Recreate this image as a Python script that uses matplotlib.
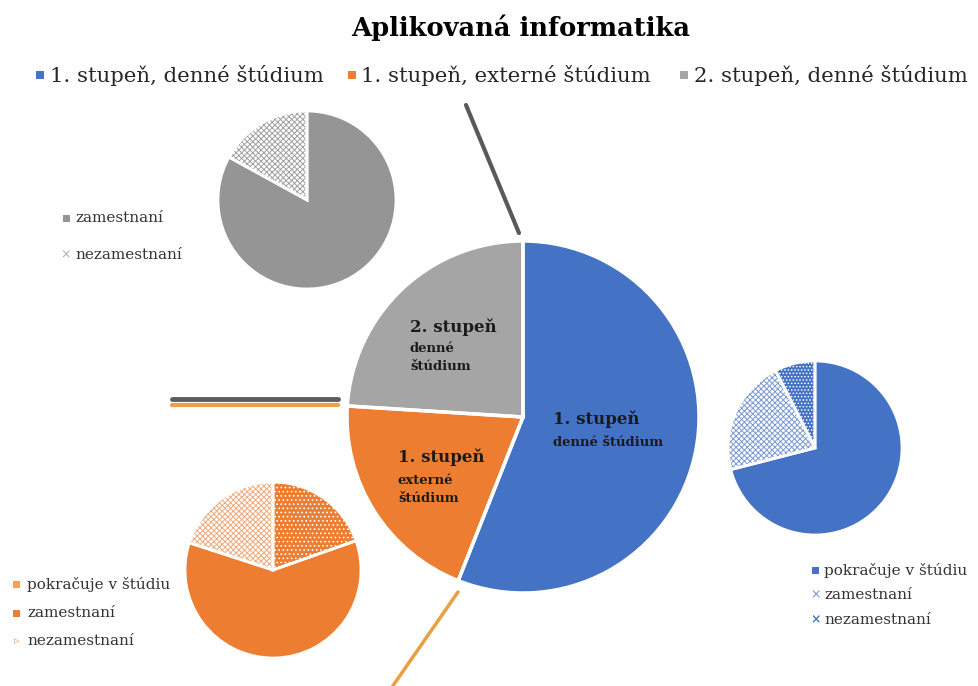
import matplotlib
matplotlib.use('Agg')
import matplotlib.pyplot as plt
from matplotlib.patches import Rectangle

plt.rcParams['font.family'] = ['DejaVu Serif']
plt.rcParams['hatch.linewidth'] = 0.7

title = "Aplikovaná informatika"
main_labels = ["1. stupeň, denné štúdium", "1. stupeň, externé štúdium", "2. stupeň, denné štúdium"]
main_values = [56, 20, 24]
main_colors = ["#4472C4", "#ED7D31", "#A5A5A5"]
main_inner = [["1. stupeň", "denné štúdium"], ["1. stupeň", "externé", "štúdium"], ["2. stupeň", "denné", "štúdium"]]

gray_labels = ["zamestnaní", "nezamestnaní"]
gray_values = [83, 17]
blue_labels = ["pokračuje v štúdiu", "zamestnaní", "nezamestnaní"]
blue_values = [71, 21.5, 7.5]
orange_labels = ["pokračuje v štúdiu", "zamestnaní", "nezamestnaní"]
orange_values = [19.6, 60.4, 20]

W, H = 979, 686
fig = plt.figure(figsize=(9.79, 6.86), dpi=100)
ax = fig.add_axes([0, 0, 1, 1])


def Y(y):
    return H - y


def draw_pie(values, center, radius, faces, hatches, hatchcols, lw=2):
    wedges, _ = ax.pie(values, center=center, radius=radius, startangle=90,
                       counterclock=False, frame=True, wedgeprops=dict(linewidth=0))
    for w, fc, h, hc in zip(wedges, faces, hatches, hatchcols):
        w.set_facecolor(fc)
        w.set_hatch(h)
        w.set_edgecolor(hc)
    ax.pie(values, center=center, radius=radius, startangle=90, counterclock=False,
           frame=True, wedgeprops=dict(fill=False, edgecolor='white', linewidth=lw))


# main pie
draw_pie(main_values, (523, Y(417)), 176, main_colors, [None] * 3, main_colors, lw=2.5)

BLUE, ORANGE, GRAY = "#4472C4", "#ED7D31", "#959595"
# gray pie
draw_pie(gray_values, (307, Y(200)), 89, [GRAY, "white"], [None, "xxxxxx"], [GRAY, "#a0a0a0"])
# blue pie
draw_pie(blue_values, (815, Y(448)), 87, [BLUE, "white", BLUE],
         [None, "xxxxxx", "....."], [BLUE, "#7a98d4", "white"])
# orange pie
draw_pie(orange_values, (273, Y(570)), 88, [ORANGE, ORANGE, "white"],
         ["....", None, "xxxxxx"], ["white", ORANGE, "#f2a878"])

# labels inside main pie
txtc = '#1b1b1b'
ax.text(553, Y(419), main_inner[0][0], fontsize=12, fontweight='bold', color=txtc, va='center')
ax.text(553, Y(442), main_inner[0][1], fontsize=9.5, fontweight='bold', color=txtc, va='center')
ax.text(398, Y(457), main_inner[1][0], fontsize=12, fontweight='bold', color=txtc, va='center')
ax.text(398, Y(480), main_inner[1][1], fontsize=9.5, fontweight='bold', color=txtc, va='center')
ax.text(398, Y(498), main_inner[1][2], fontsize=9.5, fontweight='bold', color=txtc, va='center')
ax.text(410, Y(327), main_inner[2][0], fontsize=12, fontweight='bold', color=txtc, va='center')
ax.text(410, Y(348), main_inner[2][1], fontsize=9.5, fontweight='bold', color=txtc, va='center')
ax.text(410, Y(367), main_inner[2][2], fontsize=9.5, fontweight='bold', color=txtc, va='center')

# stray connector lines
ax.plot([466, 519], [Y(105), Y(233)], color='#595959', lw=3, solid_capstyle='round')
ax.plot([172, 338], [Y(399), Y(399)], color='#5a5e63', lw=3.5, solid_capstyle='round')
ax.plot([172, 338], [Y(405), Y(405)], color='#EDA04B', lw=3, solid_capstyle='round')
ax.plot([458, 390], [Y(592), Y(690)], color='#E8A040', lw=2.5, solid_capstyle='round')

# title
ax.text(521, Y(28), title, fontsize=18.5, fontweight='bold', ha='center', va='center', color='black')

# top legend
leg_x = [(36, 50), (348, 361), (680, 694)]
for (mx, tx), lab, col in zip(leg_x, main_labels, main_colors):
    ax.add_patch(Rectangle((mx, Y(79)), 8, 8, facecolor=col, edgecolor='none'))
    ax.text(tx, Y(75), lab, fontsize=15.3, va='center', color='#262626')

lc = '#333333'
# gray legend
ax.add_patch(Rectangle((63, Y(222)), 7, 7, facecolor=GRAY, edgecolor='none'))
ax.text(75, Y(218), gray_labels[0], fontsize=11, va='center', color=lc)
ax.text(66, Y(255), "×", fontsize=9, va='center', ha='center', color='#aaaaaa')
ax.text(75, Y(255), gray_labels[1], fontsize=11, va='center', color=lc)

# blue legend
bys = [570, 595, 620]
ax.add_patch(Rectangle((812, Y(bys[0] + 3.5)), 7, 7, facecolor=BLUE, edgecolor='none'))
ax.text(815.5, Y(bys[1]), "×", fontsize=9, va='center', ha='center', color='#6f8fd0')
ax.text(815.5, Y(bys[2]), "×", fontsize=9, fontweight='bold', va='center', ha='center', color=BLUE)
for yy, lab in zip(bys, blue_labels):
    ax.text(824, Y(yy), lab, fontsize=11, va='center', color=lc)

# orange legend
oys = [584, 613, 641]
ax.add_patch(Rectangle((13, Y(oys[0] + 3.5)), 7, 7, facecolor="#f2a060", edgecolor='none'))
ax.add_patch(Rectangle((13, Y(oys[1] + 3.5)), 7, 7, facecolor=ORANGE, edgecolor='none'))
ax.text(16.5, Y(oys[2]), "▹", fontsize=8, va='center', ha='center', color='#f0a070')
for yy, lab in zip(oys, orange_labels):
    ax.text(27, Y(yy), lab, fontsize=11, va='center', color=lc)

ax.set_xlim(0, W)
ax.set_ylim(0, H)
ax.set_aspect('auto')
ax.axis('off')
fig.savefig('out.png', dpi=100, facecolor='white')
